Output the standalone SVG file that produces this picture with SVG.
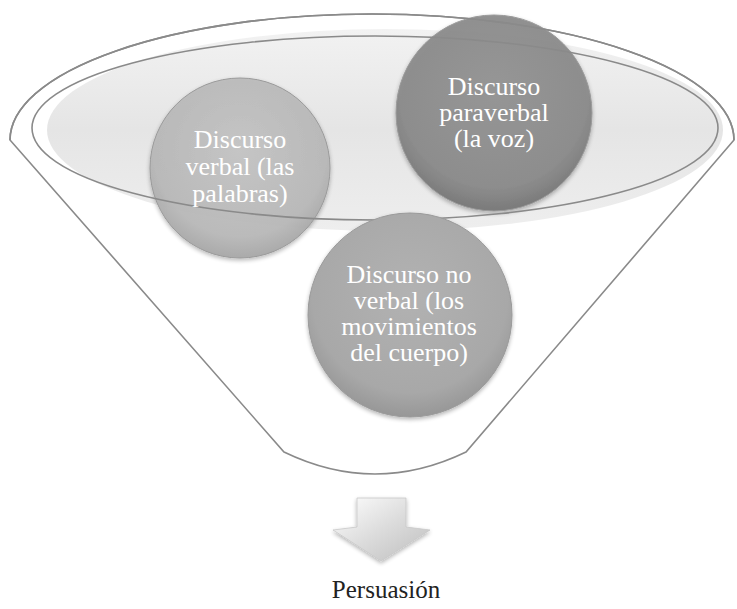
<svg xmlns="http://www.w3.org/2000/svg" width="737" height="609" viewBox="0 0 737 609">
<defs>
<style>
.rim{fill:none;stroke:#8a8a8a;stroke-width:1.6}
.lbl{font-family:'Liberation Serif','DejaVu Serif',serif;font-size:25px;fill:#ffffff;text-anchor:middle}
.cap{font-family:'Liberation Serif','DejaVu Serif',serif;font-size:25px;fill:#222222;text-anchor:middle}
.circ{stroke:#9a9a9a;stroke-width:1}
</style>
<linearGradient id="gRim" x1="0" y1="0" x2="0" y2="1">
<stop offset="0" stop-color="#f2f2f2"/>
<stop offset="0.5" stop-color="#e5e5e5"/>
<stop offset="1" stop-color="#eeeeee"/>
</linearGradient>
<radialGradient id="gVerbal" cx="0.5" cy="0.4" r="0.6">
<stop offset="0" stop-color="#c4c4c4"/>
<stop offset="0.8" stop-color="#b8b8b8"/>
<stop offset="1" stop-color="#a6a6a6"/>
</radialGradient>
<radialGradient id="gPara" cx="0.5" cy="0.4" r="0.6">
<stop offset="0" stop-color="#949494"/>
<stop offset="0.8" stop-color="#8a8a8a"/>
<stop offset="1" stop-color="#777777"/>
</radialGradient>
<radialGradient id="gNo" cx="0.5" cy="0.4" r="0.6">
<stop offset="0" stop-color="#b2b2b2"/>
<stop offset="0.8" stop-color="#a8a8a8"/>
<stop offset="1" stop-color="#979797"/>
</radialGradient>
<linearGradient id="gArrow" x1="0" y1="0" x2="1" y2="1">
<stop offset="0" stop-color="#ffffff"/>
<stop offset="0.5" stop-color="#dcdcdc"/>
<stop offset="1" stop-color="#bdbdbd"/>
</linearGradient>
<filter id="sh" x="-20%" y="-20%" width="140%" height="140%">
<feGaussianBlur in="SourceAlpha" stdDeviation="2"/>
<feOffset dx="0" dy="2" result="b"/>
<feComponentTransfer><feFuncA type="linear" slope="0.3"/></feComponentTransfer>
<feMerge><feMergeNode/><feMergeNode in="SourceGraphic"/></feMerge>
</filter>
</defs>
<rect width="737" height="609" fill="#ffffff"/>
<g id="funnel">
<path d="M 10,140 A 362,126 0 0 1 734,140 L 466,452 Q 375,496 284,452 Z" fill="#ffffff" stroke="#8a8a8a" stroke-width="1.6"/>
<ellipse cx="385" cy="130" rx="338" ry="101" fill="url(#gRim)"/>
</g>
<g id="node-verbal" filter="url(#sh)">
<circle class="circ" cx="240" cy="168" r="90" fill="url(#gVerbal)" fill-opacity="0.92"/>
</g>
<g id="node-paraverbal" filter="url(#sh)">
<circle class="circ" cx="494" cy="113" r="98" fill="url(#gPara)" fill-opacity="0.95"/>
</g>
<g id="rim-strokes">
<path class="rim" d="M 10,140 A 362,126 0 0 1 734,140"/>
<ellipse class="rim" cx="375" cy="128" rx="343" ry="92"/>
</g>
<g id="node-noverbal" filter="url(#sh)">
<circle class="circ" cx="410" cy="315" r="102" fill="url(#gNo)"/>
</g>
<g id="labels">
<text class="lbl" transform="translate(240,148) scale(1.04,1)">Discurso</text>
<text class="lbl" transform="translate(240,175) scale(1.04,1)">verbal (las</text>
<text class="lbl" transform="translate(240,202) scale(1.04,1)">palabras)</text>
<text class="lbl" transform="translate(494,95) scale(1.04,1)">Discurso</text>
<text class="lbl" transform="translate(494,121) scale(1.04,1)">paraverbal</text>
<text class="lbl" transform="translate(494,147) scale(1.04,1)">(la voz)</text>
<text class="lbl" transform="translate(409,283) scale(1.04,1)">Discurso no</text>
<text class="lbl" transform="translate(409,309) scale(1.04,1)">verbal (los</text>
<text class="lbl" transform="translate(409,335) scale(1.04,1)">movimientos</text>
<text class="lbl" transform="translate(409,361) scale(1.04,1)">del cuerpo)</text>
</g>
<g id="connectors">
<polygon points="357,498 406,498 406,527 430,530 381,561 333,530 357,527" fill="url(#gArrow)" stroke="#c8c8c8" stroke-width="0.8" filter="url(#sh)"/>
</g>
<g id="node-persuasion">
<text class="cap" x="386" y="598">Persuasión</text>
</g>
</svg>
